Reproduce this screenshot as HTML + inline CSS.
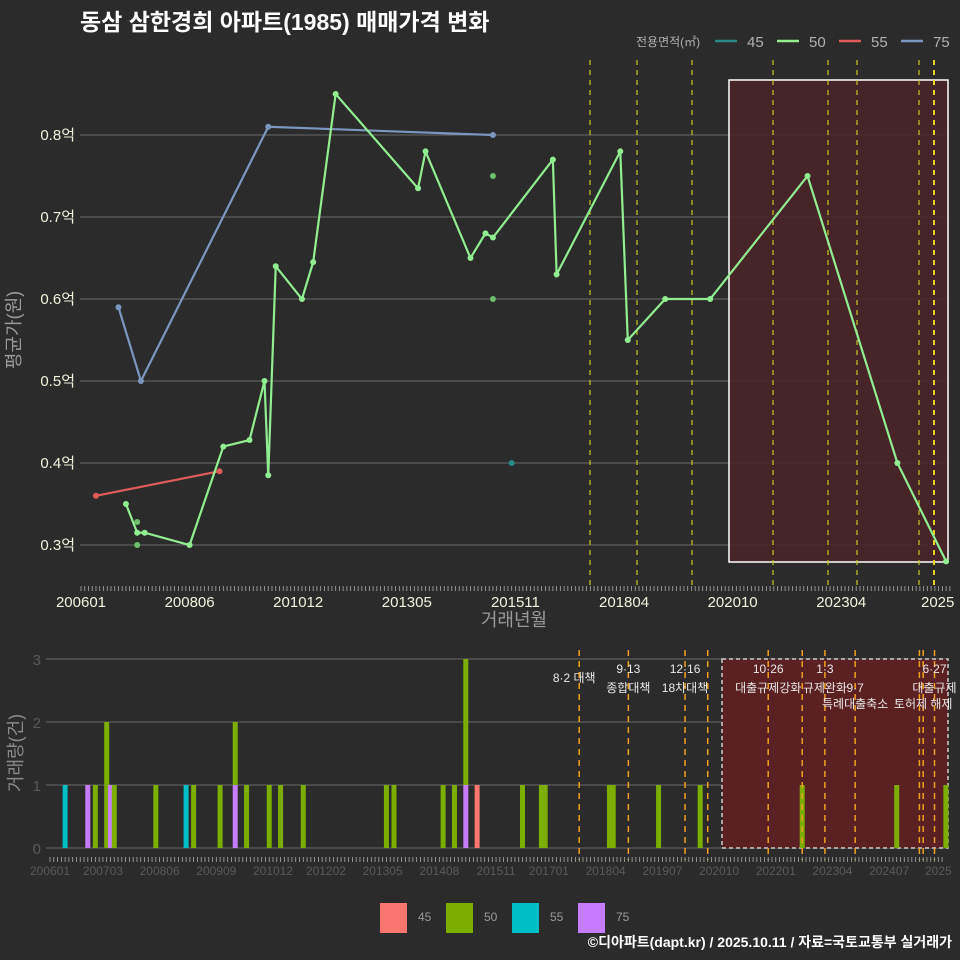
<!DOCTYPE html>
<html><head><meta charset="utf-8">
<style>
html,body{margin:0;padding:0;background:#2b2b2b;}
svg{display:block;font-family:"Liberation Sans","Noto Sans CJK KR",sans-serif;}
</style></head>
<body>
<svg id="c" width="960" height="960" viewBox="0 0 960 960">
<rect x="0" y="0" width="960" height="960" fill="#2b2b2b"/>
<text x="80" y="30" fill="#ffffff" font-size="23" font-weight="bold">동삼 삼한경희 아파트(1985) 매매가격 변화</text>
<g id="topPanel"></g>
<g id="botPanel"></g>
<text x="952" y="947" text-anchor="end" fill="#ffffff" font-size="14" font-weight="bold">©디아파트(dapt.kr) / 2025.10.11 / 자료=국토교통부 실거래가</text>
</svg>
<script>
// ===== data (months since 2006-01) =====
const sizes = ['45','50','55','75'];
const lineColors = {'45':'#2a8a88','50':'#90ee90','55':'#e05a5a','75':'#7b96bf'};
const barColors = {'45':'#f8766d','50':'#7cae00','55':'#00bfc4','75':'#c77cff'};
const s50Months = [12,15,17,29,38,45,49,50,52,59,62,68,90,92,104,108,110,126,127,144,146,156,168,194,218,231];
const s50Values = [0.35,0.315,0.315,0.30,0.42,0.428,0.50,0.385,0.64,0.60,0.645,0.85,0.735,0.78,0.65,0.68,0.675,0.77,0.63,0.78,0.55,0.60,0.60,0.75,0.40,0.28];
const s50DotMonths = [15,15,110,110];
const s50DotValues = [0.328,0.30,0.75,0.60];
const s45Months = [115];
const s45Values = [0.40];
const s55Months = [4,37];
const s55Values = [0.36,0.39];
const s75Months = [10,16,50,110];
const s75Values = [0.59,0.50,0.81,0.80];
const yTicks = [0.3,0.4,0.5,0.6,0.7,0.8];
const yTickLabels = ['0.3억','0.4억','0.5억','0.6억','0.7억','0.8억'];
const xTickMonths = [0,29,58,87,116,145,174,203,232];
const xTickLabels = ['200601','200806','201012','201305','201511','201804','202010','202304','2025'];
const policyTopX = [590,637,692,773,828,857,919,934];
// volume bars
const barMonths = [4,10,12,15,16,17,28,36,38,45,49,49,52,58,61,67,89,91,104,107,110,110,113,125,130,131,148,149,161,172,199,224,237];
const barSizes  = ['55','75','50','50','75','50','50','55','50','50','75','50','50','50','50','50','50','50','50','50','75','50','45','50','50','50','50','50','50','50','50','50','50'];
const barCounts = [1,1,1,2,1,1,1,1,1,1,1,1,1,1,1,1,1,1,1,1,1,2,1,1,1,1,1,1,1,1,1,1,1];
const barBase   = [0,0,0,0,0,0,0,0,0,0,0,1,0,0,0,0,0,0,0,0,0,1,0,0,0,0,0,0,0,0,0,0,0];
const volTicks = [0,1,2,3];
const bxTickMonths = [0,14,29,44,59,73,88,103,118,132,147,162,177,192,207,222,236];
const bxTickLabels = ['200601','200703','200806','200909','201012','201202','201305','201408','201511','201701','201804','201907','202010','202201','202304','202407','2025'];
const policyMonths = [140,153,168,174,190,199,205,213,230,231,234];
const policyTop = ['','9·13','12·16','','10·26','','1·3','','','','6·27'];
const policyMid = ['8·2 대책','종합대책','18차대책','','대출규제강화','','규제완화','9·7','','','대출규제'];
const policyLow = ['','','','','','','','특례대출축소','','토허제 해제',''];

const NS='http://www.w3.org/2000/svg';
function mk(parent,tag,attrs,name,text){const e=document.createElementNS(NS,tag);for(const k in attrs)e.setAttribute(k,attrs[k]);


if(text!==undefined)e.textContent=text;parent.appendChild(e);return e;}

// ===== top panel =====
const topG=document.getElementById('topPanel');
const X=m=>81+m*3.745;
const Y=v=>545-(v-0.3)*820;
yTicks.forEach((v,i)=>{
  mk(topG,'line',{x1:80,x2:948,y1:Y(v),y2:Y(v),stroke:'#6a6a6a','stroke-width':1},'y-gridline');
  mk(topG,'text',{x:75,y:Y(v)+5,'text-anchor':'end',fill:'#f2f2dc','font-size':15},'y-tick-label',yTickLabels[i]);
});
mk(topG,'rect',{x:729,y:80,width:219,height:482,fill:'#4a2328','fill-opacity':0.9,stroke:'#ffffff','stroke-width':1.5},'highlight-region');
policyTopX.forEach((x,i)=>{
  mk(topG,'line',{x1:x,x2:x,y1:60,y2:590,stroke:i===7?'#e8d020':'#c8c820','stroke-width':i===7?2:1.2,'stroke-dasharray':'5,5'},'policy-line');
});
for(let m=0;m<=232;m++){
  mk(topG,'line',{x1:X(m),x2:X(m),y1:586,y2:591,stroke:'#aaaaaa','stroke-width':0.8},'x-minor-tick');
}
xTickMonths.forEach((m,i)=>{
  mk(topG,'text',{x:Math.min(X(m),921),y:607,'text-anchor':i===8?'start':'middle',fill:'#f2f2dc','font-size':15},'x-tick-label',xTickLabels[i]);
});
mk(topG,'text',{x:514,y:626,'text-anchor':'middle',fill:'#9a9a9a','font-size':18},'x-axis-title','거래년월');
mk(topG,'text',{x:0,y:0,transform:'translate(20,330) rotate(-90)','text-anchor':'middle',fill:'#9a9a9a','font-size':18},'y-axis-title','평균가(원)');
function series(ms,vs,col,name){
  if(ms.length>1) mk(topG,'polyline',{points:ms.map((m,i)=>X(m)+','+Y(vs[i])).join(' '),fill:'none',stroke:col,'stroke-width':2.2},name+'-line');
  ms.forEach((m,i)=>mk(topG,'circle',{cx:X(m),cy:Y(vs[i]),r:3,fill:col},name+'-point'));
}
series(s75Months,s75Values,lineColors['75'],'series-75');
series(s55Months,s55Values,lineColors['55'],'series-55');
series(s50Months,s50Values,lineColors['50'],'series-50');
s50DotMonths.forEach((m,i)=>mk(topG,'circle',{cx:X(m),cy:Y(s50DotValues[i]),r:3,fill:'#6cc06c'},'series-50-trade-point'));
series(s45Months,s45Values,lineColors['45'],'series-45');
// legend
mk(topG,'text',{x:636,y:46,fill:'#b0b0b0','font-size':12},'legend-title','전용면적(㎡)');
sizes.forEach((s,i)=>{
  const lx=715+i*62;
  mk(topG,'line',{x1:lx,x2:lx+22,y1:41,y2:41,stroke:lineColors[s],'stroke-width':2.5},'legend-key-'+s);
  mk(topG,'text',{x:lx+32,y:47,fill:'#b0b0b0','font-size':15},'legend-label-'+s,s);
});

// ===== bottom panel =====
const botG=document.getElementById('botPanel');
const BX=m=>50+m*3.78;
const BY=c=>848-c*63;
volTicks.forEach(v=>{
  mk(botG,'line',{x1:46,x2:948,y1:BY(v),y2:BY(v),stroke:'#6a6a6a','stroke-width':1},'vol-gridline');
  mk(botG,'text',{x:41,y:BY(v)+6,'text-anchor':'end',fill:'#5a5a5a','font-size':15},'vol-tick-label',String(v));
});
mk(botG,'rect',{x:722,y:659,width:226,height:189,fill:'#5a2022',stroke:'#cccccc','stroke-width':1.5,'stroke-dasharray':'4,3'},'vol-highlight-region');
barMonths.forEach((m,i)=>{
  const y0=BY(barBase[i]),y1=BY(barBase[i]+barCounts[i]);
  mk(botG,'rect',{x:BX(m)-2.5,y:y1,width:5,height:y0-y1,fill:barColors[barSizes[i]]},'volume-bar');
});
policyMonths.forEach((m,i)=>{
  const x=BX(m);
  mk(botG,'line',{x1:x,x2:x,y1:650,y2:860,stroke:'#f0a020','stroke-width':1.5,'stroke-dasharray':'6,5'},'policy-line');
  if(policyTop[i]) mk(botG,'text',{x:x,y:673,'text-anchor':'middle',fill:'#e8e8e8','font-size':12},'policy-date',policyTop[i]);
  if(policyMid[i]) mk(botG,'text',{x:i===0?x-5:x,y:i===0?682:692,'text-anchor':'middle',fill:'#e8e8e8','font-size':12},'policy-label',policyMid[i]);
  if(policyLow[i]) mk(botG,'text',{x:x,y:708,'text-anchor':'middle',fill:'#e8e8e8','font-size':12},'policy-label',policyLow[i]);
});
for(let m=0;m<=236;m++){
  mk(botG,'line',{x1:BX(m),x2:BX(m),y1:857,y2:862,stroke:'#aaaaaa','stroke-width':0.8},'vol-x-minor-tick');
}
bxTickMonths.forEach((m,i)=>{
  mk(botG,'text',{x:Math.min(BX(m),925),y:875,'text-anchor':i===16?'start':'middle',fill:'#5a5a5a','font-size':12},'vol-x-tick-label',bxTickLabels[i]);
});
mk(botG,'text',{x:0,y:0,transform:'translate(22,753) rotate(-90)','text-anchor':'middle',fill:'#8a8a8a','font-size':18},'vol-y-axis-title','거래량(건)');
sizes.forEach((s,i)=>{
  const lx=380+i*66;
  mk(botG,'rect',{x:lx,y:903,width:27,height:30,fill:barColors[s]},'vol-legend-key-'+s);
  mk(botG,'text',{x:lx+38,y:921,fill:'#9a9a9a','font-size':12},'vol-legend-label-'+s,s);
});
</script>
</body></html>
